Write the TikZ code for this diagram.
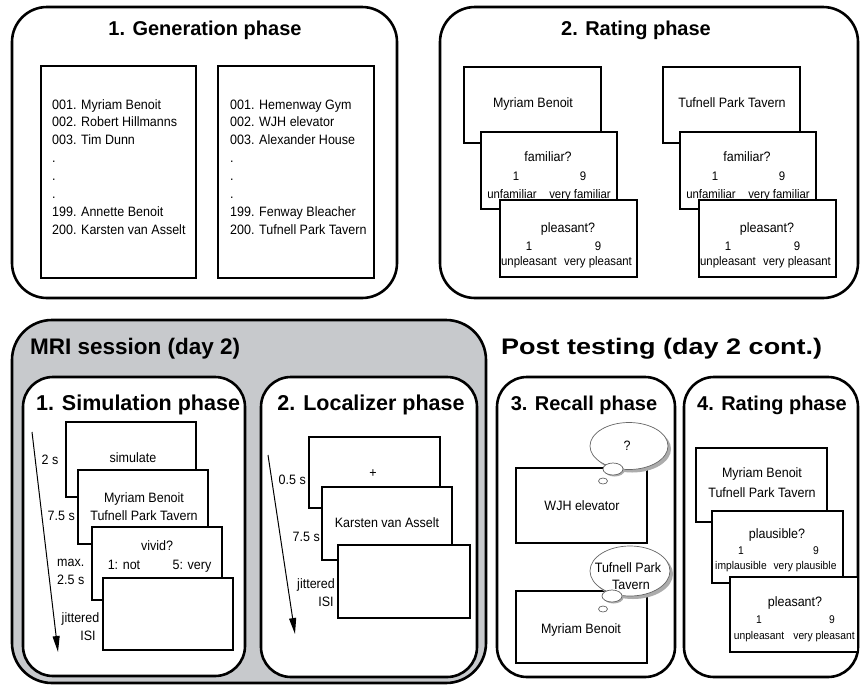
\documentclass[tikz,border=0pt]{standalone}
\usepackage{fontspec}
\setmainfont{Liberation Sans}
\newfontfamily\cnd[FakeStretch=0.92]{Liberation Sans}
\usetikzlibrary{arrows.meta,shapes.geometric,fit}
\definecolor{panelgray}{RGB}{199,201,204}
\begin{document}
\begin{tikzpicture}[x=1pt,y=-1pt,
  panel/.style={draw, line width=2.6pt, rounded corners=35pt, fill=white, inner sep=0pt},
  subpanel/.style={draw, line width=2.6pt, rounded corners=30pt, fill=white, inner sep=0pt},
  scr/.style={draw, line width=1.9pt, fill=white, inner sep=0pt},
  tx/.style={font=\cnd\fontsize{13.6}{16}\selectfont, inner sep=0pt, anchor=base},
  sm/.style={font=\cnd\fontsize{12.4}{14}\selectfont, inner sep=0pt, anchor=base},
  tn/.style={font=\cnd\fontsize{11.2}{13}\selectfont, inner sep=0pt, anchor=base},
  ttl/.style={font=\bfseries\fontsize{20}{24}\selectfont, inner sep=0pt, anchor=base},
  sub/.style={font=\bfseries\fontsize{21.5}{26}\selectfont, inner sep=0pt, anchor=base},
  subr/.style={font=\bfseries\fontsize{20}{24}\selectfont, inner sep=0pt, anchor=base},
  sec/.style={font=\bfseries\fontsize{22.5}{27}\selectfont, inner sep=0pt, anchor=base west},
  arr/.style={line width=1pt, -{Triangle[length=16pt,width=7pt]}},
  bub/.style={ellipse, draw=gray!80!black, line width=0.7pt, fill=white, inner sep=0pt},
  bubsh/.style={ellipse, fill=gray!65, inner sep=0pt}
]
\useasboundingbox (0,0) rectangle (860,686);

% ---------- 1. Generation phase ----------
\node[panel, fit={(12,7) (397,298)}] (gen) {};
\node[ttl] (gent) at (205,35) {1. Generation phase};
\node[scr, fit={(41,66) (196,278)}] (lista) {};
\node[scr, fit={(218,66) (374,278)}] (listb) {};
\foreach \t [count=\i] in {001. Myriam Benoit, 002. Robert Hillmanns, 003. Tim Dunn, ., ., ., 199. Annette Benoit, 200. Karsten van Asselt}
  \node[tx, anchor=base west] (la\i) at (52,{109+17.9*(\i-1)}) {\t};
\foreach \t [count=\i] in {001. Hemenway Gym, 002. WJH elevator, 003. Alexander House, ., ., ., 199. Fenway Bleacher, 200. Tufnell Park Tavern}
  \node[tx, anchor=base west] (lb\i) at (230,{109+17.9*(\i-1)}) {\t};

% ---------- 2. Rating phase ----------
\node[panel, fit={(440,7) (858,298)}] (rat) {};
\node[ttl] (ratt) at (636,35) {2. Rating phase};
\foreach \dx/\nm/\lab in {0/a/Myriam Benoit, 199/b/Tufnell Park Tavern}{
  \node[scr, fit={({464+\dx},67) ({601+\dx},143)}] (ra\nm) {};
  \node[tx] (ral\nm) at ({533+\dx},107) {\lab};
  \node[scr, fit={({481+\dx},132) ({617+\dx},209)}] (rb\nm) {};
  \node[tx] (rbq\nm) at ({548+\dx},161.5) {familiar?};
  \node[sm] (rb1\nm) at ({516+\dx},180) {1};
  \node[sm] (rb9\nm) at ({583+\dx},180) {9};
  \node[sm] (rbu\nm) at ({512+\dx},198) {unfamiliar};
  \node[sm] (rbv\nm) at ({580+\dx},198) {very familiar};
  \node[scr, fit={({500+\dx},200) ({637+\dx},277)}] (rc\nm) {};
  \node[tx] (rcq\nm) at ({568+\dx},232) {pleasant?};
  \node[sm] (rc1\nm) at ({529+\dx},250) {1};
  \node[sm] (rc9\nm) at ({598+\dx},250) {9};
  \node[sm] (rcu\nm) at ({529+\dx},265) {unpleasant};
  \node[sm] (rcv\nm) at ({598+\dx},265) {very pleasant};
}

% ---------- MRI session ----------
\node[panel, fill=panelgray, rounded corners=40pt, fit={(12,320) (486,683)}] (mri) {};
\node[sec] (mrit) at (30,354) {MRI session (day 2)};

% 1. Simulation phase
\node[subpanel, fit={(23,377) (245,676)}] (sim) {};
\node[sub] (simt) at (138,410) {1. Simulation phase};
\coordinate (sa) at (32,432);
\coordinate (sb) at (58,652);
\draw[arr] (sa) -- (sb);
\node[scr, fit={(66,422) (196,497)}] (s1) {};
\node[tx] (s1t) at (133,462) {simulate};
\node[scr, fit={(78,470) (208,544)}] (s2) {};
\node[tx] (s2a) at (144,502) {Myriam Benoit};
\node[tx] (s2b) at (144,520) {Tufnell Park Tavern};
\node[scr, fit={(92,527) (222,600)}] (s3) {};
\node[tx] (s3q) at (157,550) {vivid?};
\node[tx] (s3a) at (124,569) {1: not};
\node[tx] (s3b) at (192,569) {5: very};
\node[scr, fit={(103,578) (233,650)}] (s4) {};
\node[tx] (l2s) at (50,464) {2 s};
\node[tx, anchor=base east] (l75) at (75,520) {7.5 s};
\node[tx, anchor=base west] (lmax) at (57,566) {max.};
\node[tx, anchor=base west] (l25) at (57,584) {2.5 s};
\node[tx, anchor=base east] (ljit) at (99.5,622) {jittered};
\node[tx] (lisi) at (88,640) {ISI};

% 2. Localizer phase
\node[subpanel, fit={(261,377) (477,677)}] (loc) {};
\node[sub] (loct) at (371,410) {2. Localizer phase};
\coordinate (la) at (268,455);
\coordinate (lb) at (295,634);
\draw[arr] (la) -- (lb);
\node[scr, fit={(309,437) (440,508)}] (q1) {};
\node[tx] (q1t) at (373,477) {+};
\node[scr, fit={(322,487) (452,560)}] (q2) {};
\node[tx] (q2t) at (387,527) {Karsten van Asselt};
\node[scr, fit={(338,545) (470,618)}] (q3) {};
\node[tx, anchor=base east] (m05) at (306,484) {0.5 s};
\node[tx, anchor=base east] (m75) at (320,541) {7.5 s};
\node[tx, anchor=base east] (mjit) at (335,588) {jittered};
\node[tx] (misi) at (326,606) {ISI};

% ---------- Post testing ----------
\node[sec, font=\bfseries\fontsize{22.5}{27}\selectfont\addfontfeature{FakeStretch=1.2}] (postt) at (501,354) {Post testing (day 2 cont.)};

% 3. Recall phase
\node[subpanel, fit={(497,377) (675,677)}] (rec) {};
\node[subr] (rect) at (584,410) {3. Recall phase};
\node[scr, fit={(516,468) (647,543)}] (w1) {};
\node[tx] (w1t) at (582,510) {WJH elevator};
\node[scr, fit={(516,591) (647,663)}] (w2) {};
\node[tx] (w2t) at (581,633) {Myriam Benoit};
% bubble 1
\node[bubsh, minimum width=78, minimum height=47] (b1s) at (632,449) {};
\node[bub, minimum width=78, minimum height=47] (b1) at (629,446) {};
\node[tx] (b1t) at (627,450) {?};
\node[bubsh, minimum width=20, minimum height=12] (b1ms) at (614.5,470.5) {};
\node[bub, minimum width=20, minimum height=12] (b1m) at (613,469) {};
\node[bub, minimum width=9, minimum height=6] (b1s2) at (603,481) {};
% bubble 2
\node[bubsh, minimum width=80, minimum height=50] (b2s) at (633,574) {};
\node[bub, minimum width=80, minimum height=50] (b2) at (630,571) {};
\node[tx] (b2a) at (628,572) {Tufnell Park};
\node[tx] (b2b) at (631,589) {Tavern};
\node[bubsh, minimum width=20, minimum height=12] (b2ms) at (613.5,597.5) {};
\node[bub, minimum width=20, minimum height=12] (b2m) at (612,596) {};
\node[bub, minimum width=9, minimum height=6] (b2s2) at (603,609) {};

% 4. Rating phase
\node[subpanel, fit={(684,377) (858,677)}] (rt4) {};
\node[subr] (rt4t) at (772,410) {4. Rating phase};
\node[scr, fit={(696,448) (827,522)}] (p1) {};
\node[tx] (p1a) at (762,477) {Myriam Benoit};
\node[tx] (p1b) at (762,497) {Tufnell Park Tavern};
\node[scr, fit={(712,511) (843,583)}] (p2) {};
\node[tx] (p2q) at (777,538) {plausible?};
\node[tn] (p21) at (741,554.5) {1};
\node[tn] (p29) at (816,554.5) {9};
\node[tn] (p2u) at (741,569.5) {implausible};
\node[tn] (p2v) at (805,569.5) {very plausible};
\node[scr, fit={(730,577) (858,652)}] (p3) {};
\node[tx] (p3q) at (795,606) {pleasant?};
\node[tn] (p31) at (759,623.5) {1};
\node[tn] (p39) at (832,623.5) {9};
\node[tn] (p3u) at (759,639) {unpleasant};
\node[tn] (p3v) at (824,639) {very pleasant};
\end{tikzpicture}
\end{document}
